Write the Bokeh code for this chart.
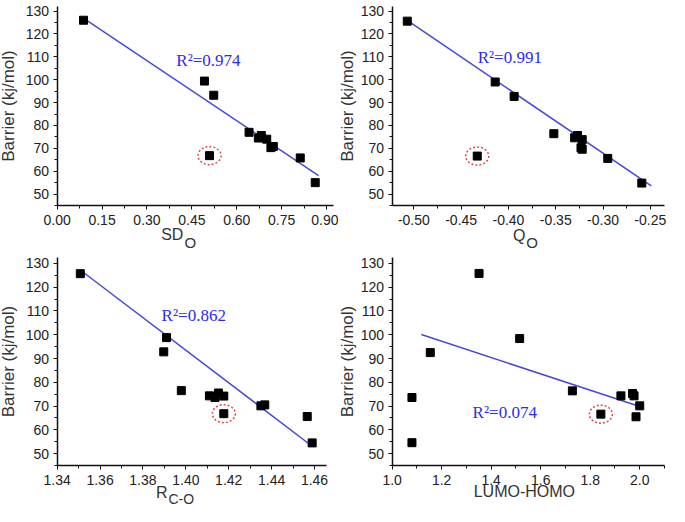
from bokeh.plotting import figure
from bokeh.layouts import column, row
from bokeh.models import FixedTicker, Label, NumeralTickFormatter, Range1d
from bokeh.embed import file_html
from bokeh.resources import INLINE

# ---------------- data ----------------
# Panel 1: Barrier vs SD_O
sd_o = [0.088, 0.492, 0.523, 0.641, 0.672, 0.682, 0.700, 0.714, 0.722, 0.812, 0.862, 0.509]
barrier_sd = [126.0, 99.4, 93.2, 77.0, 74.5, 75.6, 74.0, 70.3, 70.8, 65.8, 55.0, 66.8]
fit_sd_x = [0.095, 0.873]
fit_sd_y = [126.3, 58.1]
r2_sd = "R\u00b2=0.974"

# Panel 2: Barrier vs Q_O
q_o = [-0.507, -0.414, -0.394, -0.352, -0.330, -0.327, -0.322, -0.3233, -0.322, -0.295, -0.259, -0.433]
barrier_q = [125.6, 99.0, 92.7, 76.4, 74.6, 75.6, 73.8, 70.2, 69.6, 65.6, 54.8, 66.6]
fit_q_x = [-0.507, -0.249]
fit_q_y = [125.9, 53.6]
r2_q = "R\u00b2=0.991"

# Panel 3: Barrier vs R_C-O
r_co = [1.3508, 1.3910, 1.3897, 1.3979, 1.4110, 1.4136, 1.4152, 1.4177, 1.4350, 1.4368, 1.4566, 1.4589, 1.4177]
barrier_r = [125.7, 98.8, 92.8, 76.5, 74.3, 73.6, 75.5, 74.2, 70.1, 70.5, 65.6, 54.5, 66.8]
fit_r_x = [1.3523, 1.4589]
fit_r_y = [126.2, 53.1]
r2_r = "R\u00b2=0.862"

# Panel 4: Barrier vs LUMO-HOMO
gap = [1.351, 1.515, 1.154, 1.728, 1.080, 1.080, 1.924, 1.971, 1.977, 2.000, 1.985, 1.843]
barrier_gap = [125.8, 98.4, 92.5, 76.4, 73.6, 54.6, 74.3, 75.3, 74.3, 70.1, 65.5, 66.6]
fit_gap_x = [1.118, 2.000]
fit_gap_y = [100.1, 69.8]
r2_gap = "R\u00b2=0.074"

# index of the circled outlier (last point in each list)
outlier = -1

# tick values
y_ticks = [50, 60, 70, 80, 90, 100, 110, 120, 130]
x_ticks_sd = [0.00, 0.15, 0.30, 0.45, 0.60, 0.75, 0.90]
x_ticks_q = [-0.50, -0.45, -0.40, -0.35, -0.30, -0.25]
x_ticks_r = [1.34, 1.36, 1.38, 1.40, 1.42, 1.44, 1.46]
x_ticks_gap = [1.0, 1.2, 1.4, 1.6, 1.8, 2.0]

FONT = "Liberation Sans"
SERIF = "Liberation Serif"
LINE_BLUE = "#4848d8"
TEXT_BLUE = "#2c2ce8"
LABEL_GREY = "#333333"


# layout helpers: reference-picture pixel -> page pixel
def X(rx):
    return 8 + (rx - 5) * 0.994


def Y(ry):
    return ry


def minors(ticks, lo, hi):
    step = ticks[1] - ticks[0]
    out = []
    for t in [ticks[0] - step] + list(ticks):
        m = t + step / 2.0
        if lo - 1e-9 <= m <= hi + 1e-9:
            out.append(round(m, 6))
    return out


class Panel:
    """Figure whose plot area fills the canvas; axes are drawn at fixed data
    locations so that the subscripted axis titles can be placed as labels."""

    def __init__(self, fig_box, frame_box, data_box, xt, xfmt, ylabel_standoff):
        fx, fy, W, H = fig_box
        x0, x1, y0, y1 = frame_box
        xlo, xhi, ylo, yhi = data_box
        self.x0, self.y1 = x0, y1
        self.xlo, self.ylo = xlo, ylo
        self.sx = (x1 - x0) / (xhi - xlo)
        self.sy = (y1 - y0) / (yhi - ylo)
        xr = Range1d(xlo - (x0 - fx) / self.sx, xhi + (fx + W - x1) / self.sx)
        yr = Range1d(ylo - (fy + H - y1) / self.sy, yhi + (y0 - fy) / self.sy)
        p = figure(width=W, height=H, output_backend="svg", toolbar_location=None,
                   x_range=xr, y_range=yr, min_border=0,
                   min_border_left=0, min_border_right=0,
                   min_border_top=0, min_border_bottom=0)
        p.outline_line_color = None
        p.grid.visible = False
        p.background_fill_color = "white"
        p.border_fill_color = "white"

        p.xaxis.fixed_location = ylo
        p.xaxis.bounds = (xlo, xhi)
        p.yaxis.fixed_location = xlo
        p.yaxis.bounds = (ylo, yhi)

        p.xaxis.ticker = FixedTicker(ticks=xt, minor_ticks=minors(xt, xlo, xhi))
        p.yaxis.ticker = FixedTicker(ticks=y_ticks, minor_ticks=minors(y_ticks, ylo, yhi))
        p.xaxis.formatter = NumeralTickFormatter(format=xfmt)
        p.yaxis.formatter = NumeralTickFormatter(format="0")

        for ax in (p.xaxis, p.yaxis):
            ax.axis_line_color = "#111111"
            ax.axis_line_width = 1.5
            ax.major_tick_line_color = "#111111"
            ax.minor_tick_line_color = "#111111"
            ax.major_tick_out = 4
            ax.major_tick_in = 0
            ax.minor_tick_out = 3
            ax.minor_tick_in = 0
            ax.major_label_text_font = FONT
            ax.major_label_text_font_size = "14px"
            ax.major_label_text_color = "#222222"
        p.xaxis.major_label_standoff = 5
        p.yaxis.major_label_standoff = 4

        p.yaxis.axis_label = "Barrier (kj/mol)"
        p.yaxis.axis_label_text_font = FONT
        p.yaxis.axis_label_text_font_size = "17px"
        p.yaxis.axis_label_text_font_style = "normal"
        p.yaxis.axis_label_text_color = LABEL_GREY
        p.yaxis.axis_label_standoff = ylabel_standoff
        self.p = p

    def page_x(self, px):
        return self.xlo + (px - self.x0) / self.sx

    def page_y(self, py):
        return self.ylo + (self.y1 - py) / self.sy

    def plot(self, xs, ys, fx, fy, r2, r2x, r2y):
        p = self.p
        p.line(fx, fy, line_color=LINE_BLUE, line_width=1.5)
        p.scatter(xs, ys, marker="square", size=8, fill_color="black", line_color="black")
        p.ellipse(x=[xs[outlier]], y=[ys[outlier]], width=23, height=18,
                  width_units="screen", height_units="screen",
                  fill_color=None, line_color="#e8474a", line_width=1.5, line_dash="2 2")
        p.add_layout(Label(x=r2x, y=r2y, text=r2, text_font=SERIF, text_font_size="17px",
                           text_color=TEXT_BLUE, text_align="left", text_baseline="middle"))

    def xlabel(self, join_px, main, main_base, sub=None, sub_base=None, size="16px", sub_size="15px"):
        p = self.p
        x = self.page_x(join_px)
        p.add_layout(Label(x=x, y=self.page_y(main_base), text=main,
                           text_font=FONT, text_font_size=size, text_color=LABEL_GREY,
                           text_align="right" if sub else "center",
                           text_baseline="alphabetic"))
        if sub:
            p.add_layout(Label(x=x, y=self.page_y(sub_base), text=sub, x_offset=1,
                               text_font=FONT, text_font_size=sub_size, text_color=LABEL_GREY,
                               text_align="left", text_baseline="alphabetic"))


LEFT_W, RIGHT_W = 338, 331
TOP_H, BOT_H = 250, 256

a = Panel((8, 8, LEFT_W, TOP_H), (X(62), X(340), Y(14), Y(213)),
          (0.0, 0.923, 45.0, 132.0), x_ticks_sd, "0.00", 5)
a.plot(sd_o, barrier_sd, fit_sd_x, fit_sd_y, r2_sd, 0.398, 108.4)
a.xlabel(X(189), "SD", Y(242), "O", Y(250))

b = Panel((8 + LEFT_W, 8, RIGHT_W, TOP_H), (X(399), X(673), Y(14), Y(213)),
          (-0.523, -0.235, 45.0, 132.0), x_ticks_q, "0.00", 1)
b.plot(q_o, barrier_q, fit_q_x, fit_q_y, r2_q, -0.4326, 109.7)
b.xlabel(X(533), "Q", Y(243), "O", Y(250))

c = Panel((8, 8 + TOP_H, LEFT_W, BOT_H), (X(62), X(333), Y(265), Y(473)),
          (1.34, 1.4656, 45.0, 132.5), x_ticks_r, "0.00", 5)
c.plot(r_co, barrier_r, fit_r_x, fit_r_y, r2_r, 1.3887, 108.1)
c.xlabel(X(173), "R", Y(500), "C-O", Y(506), sub_size="14px")

d = Panel((8 + LEFT_W, 8 + TOP_H, RIGHT_W, BOT_H), (X(399), X(673), Y(265), Y(473)),
          (1.0, 2.1, 45.0, 132.5), x_ticks_gap, "0.0", 1)
d.plot(gap, barrier_gap, fit_gap_x, fit_gap_y, r2_gap, 1.325, 67.3)
d.xlabel(X(532), "LUMO-HOMO", Y(499))

layout = column(row(a.p, b.p), row(c.p, d.p))
open("out.html", "w").write(file_html(layout, INLINE))
